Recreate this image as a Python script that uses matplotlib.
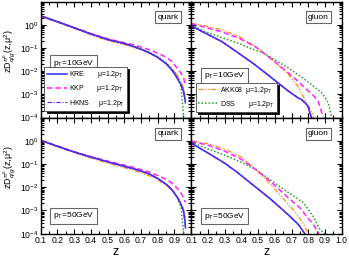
import numpy as np
import matplotlib
matplotlib.use('Agg')
import matplotlib.pyplot as plt

plt.rcParams['font.family'] = ['Liberation Sans', 'DejaVu Sans']
plt.rcParams['mathtext.fontset'] = 'custom'
plt.rcParams['mathtext.rm'] = 'Liberation Sans'
plt.rcParams['mathtext.it'] = 'Liberation Sans:italic'

# ---- quark, pT = 10 GeV ----
z_q10 = [0.1, 0.2, 0.3, 0.4, 0.5, 0.6, 0.65, 0.7, 0.75, 0.8, 0.85, 0.88, 0.9, 0.92, 0.94, 0.955]
q10_kre = [2.4, 1.35, 0.74, 0.40, 0.23, 0.155, 0.12, 0.088, 0.062, 0.039, 0.021, 0.012, 0.0078, 0.0045, 0.0026, 0.0013]
q10_hkns = [2.4, 1.35, 0.74, 0.40, 0.23, 0.155, 0.12, 0.089, 0.062, 0.039, 0.021, 0.0125, 0.008, 0.0046, 0.0025, 0.0012]
q10_kkp = [2.4, 1.35, 0.75, 0.42, 0.25, 0.17, 0.14, 0.11, 0.083, 0.06, 0.04, 0.028, 0.019, 0.012, 0.008, 0.005]
q10_akk = [2.3, 1.3, 0.70, 0.37, 0.21, 0.14, 0.11, 0.085, 0.06, 0.040, 0.023, 0.0135, 0.0095, 0.0062, 0.0035, 0.0018]
q10_dss = [2.4, 1.35, 0.74, 0.40, 0.23, 0.155, 0.12, 0.09, 0.064, 0.042, 0.024, 0.014, 0.0095, 0.0058, 0.0019, 0.0001]
z_q10_tail = [0.962, 0.965]
q10_kre_tail = [0.0007, 0.0005]
q10_hkns_tail = [0.0006, 0.0004]
q10_kkp_tail = [0.0032, 0.0025]
q10_akk_tail = [0.0011, 0.0009]

# ---- quark, pT = 50 GeV ----
z_q50 = [0.1, 0.2, 0.3, 0.4, 0.5, 0.6, 0.65, 0.7, 0.75, 0.8, 0.85, 0.88, 0.9, 0.92, 0.94, 0.955]
q50_kre = [1.05, 0.58, 0.33, 0.2, 0.125, 0.08, 0.064, 0.05, 0.037, 0.024, 0.0135, 0.0085, 0.0055, 0.0034, 0.0018, 0.0009]
q50_hkns = [1.05, 0.58, 0.33, 0.2, 0.125, 0.08, 0.064, 0.05, 0.037, 0.024, 0.0135, 0.0085, 0.0056, 0.0033, 0.0017, 0.0008]
q50_kkp = [1.05, 0.6, 0.34, 0.21, 0.135, 0.09, 0.073, 0.058, 0.045, 0.032, 0.022, 0.016, 0.012, 0.0085, 0.0055, 0.0035]
q50_akk = [1.0, 0.56, 0.31, 0.18, 0.11, 0.07, 0.055, 0.042, 0.031, 0.021, 0.012, 0.008, 0.006, 0.0038, 0.002, 0.0011]
q50_dss = [1.05, 0.58, 0.33, 0.2, 0.125, 0.08, 0.064, 0.05, 0.037, 0.024, 0.0135, 0.0085, 0.0055, 0.0033, 0.0012, 0.0001]
z_q50_tail = [0.962, 0.966]
q50_kre_tail = [0.0004, 0.00018]
q50_hkns_tail = [0.00035, 0.0002]
q50_kkp_tail = [0.0026, 0.0022]
q50_akk_tail = [0.0007, 0.0005]

# ---- gluon, pT = 10 GeV ----
z_g10_kre = [0.1, 0.183, 0.283, 0.382, 0.481, 0.581, 0.68, 0.74, 0.76, 0.78, 0.8, 0.81, 0.82]
g10_kre = [0.9, 0.44, 0.19, 0.061, 0.019, 0.0052, 0.0014, 0.0007, 0.0006, 0.00045, 0.0003, 0.00016, 0.0001]
g10_hkns = [0.88, 0.43, 0.185, 0.06, 0.019, 0.0051, 0.0014, 0.00072, 0.00058, 0.00042, 0.00028, 0.00015, 0.0001]
z_g10_akk = [0.1, 0.183, 0.283, 0.382, 0.481, 0.53, 0.581, 0.63, 0.68, 0.74, 0.78, 0.81, 0.835]
g10_akk = [1.17, 0.9, 0.61, 0.32, 0.12, 0.065, 0.033, 0.016, 0.0075, 0.0021, 0.0006, 0.00025, 0.0001]
z_g10_kkp = [0.1, 0.183, 0.283, 0.382, 0.481, 0.53, 0.581, 0.63, 0.68, 0.73, 0.78, 0.83, 0.86, 0.89]
g10_kkp = [1.1, 0.78, 0.49, 0.27, 0.117, 0.062, 0.033, 0.017, 0.0085, 0.0042, 0.0019, 0.0009, 0.0005, 0.0001]
z_g10_dss = [0.1, 0.183, 0.283, 0.382, 0.45, 0.53, 0.58, 0.68, 0.78, 0.88, 0.92, 0.94]
g10_dss = [1.0, 0.5, 0.28, 0.16, 0.1, 0.062, 0.038, 0.014, 0.0044, 0.0012, 0.00044, 0.0001]

# ---- gluon, pT = 50 GeV ----
z_g50_kre = [0.1, 0.2, 0.3, 0.374, 0.473, 0.573, 0.652, 0.692, 0.741, 0.78]
g50_kre = [0.8, 0.3, 0.11, 0.045, 0.012, 0.0032, 0.001, 0.00055, 0.00025, 0.0001]
g50_hkns = [0.78, 0.3, 0.108, 0.044, 0.012, 0.0031, 0.001, 0.00053, 0.00024, 0.0001]
z_g50_akk = [0.1, 0.2, 0.3, 0.4, 0.49, 0.573, 0.672, 0.732, 0.77, 0.8]
g50_akk = [1.0, 0.75, 0.45, 0.2, 0.055, 0.014, 0.0022, 0.0007, 0.00028, 0.0001]
z_g50_kkp = [0.1, 0.2, 0.3, 0.4, 0.49, 0.573, 0.672, 0.75, 0.83, 0.865]
g50_kkp = [0.95, 0.65, 0.36, 0.16, 0.055, 0.018, 0.004, 0.0013, 0.00025, 0.0001]
z_g50_dss = [0.1, 0.2, 0.3, 0.4, 0.49, 0.573, 0.672, 0.77, 0.83, 0.87, 0.9]
g50_dss = [0.87, 0.45, 0.24, 0.12, 0.055, 0.021, 0.0066, 0.0022, 0.00055, 0.00015, 0.0001]

xticks = [0.1, 0.2, 0.3, 0.4, 0.5, 0.6, 0.7, 0.8, 0.9, 1.0]
yticks = [1e-4, 1e-3, 1e-2, 1e-1, 1e0]
ytick_labels = ['$10^{-4}$', '$10^{-3}$', '$10^{-2}$', '$10^{-1}$', '$10^{0}$']

c_kre = '#3a3aff'
c_kkp = '#ff22ff'
c_hkns = '#6a1bd6'
c_akk = '#ff8a1a'
c_dss = '#2e9a2e'

fig = plt.figure(figsize=(3.49, 2.63), dpi=100)
L, B, W, H = 0.1166, 0.1114, 0.4312, 0.4414
ax_q10 = fig.add_axes([L, B + H, W, H])
ax_g10 = fig.add_axes([L + W, B + H, W, H])
ax_q50 = fig.add_axes([L, B, W, H])
ax_g50 = fig.add_axes([L + W, B, W, H])


def draw(ax, zk, kre, hkns, za, akk, zp, kkp, zd, dss):
    ax.plot(zd, dss, color=c_dss, lw=1.1, dashes=[1, 1.3], label='DSS')
    ax.plot(za, akk, color=c_akk, lw=0.9, dashes=[4, 1.3, 1, 1.3, 1, 1.3], label='AKK08')
    ax.plot(zp, kkp, color=c_kkp, lw=1.1, dashes=[3.5, 2], label='KKP')
    ax.plot(zk, kre, color=c_kre, lw=1.2, label='KRE')
    ax.plot(zk, hkns, color=c_hkns, lw=0.8, dashes=[4, 1.5, 1, 1.5], label='HKNS')


zq = z_q10 + z_q10_tail
draw(ax_q10, zq, q10_kre + q10_kre_tail, q10_hkns + q10_hkns_tail,
     zq, q10_akk + q10_akk_tail, zq, q10_kkp + q10_kkp_tail, z_q10, q10_dss)
zq = z_q50 + z_q50_tail
draw(ax_q50, zq, q50_kre + q50_kre_tail, q50_hkns + q50_hkns_tail,
     zq, q50_akk + q50_akk_tail, zq, q50_kkp + q50_kkp_tail, z_q50, q50_dss)
draw(ax_g10, z_g10_kre, g10_kre, g10_hkns, z_g10_akk, g10_akk,
     z_g10_kkp, g10_kkp, z_g10_dss, g10_dss)
draw(ax_g50, z_g50_kre, g50_kre, g50_hkns, z_g50_akk, g50_akk,
     z_g50_kkp, g50_kkp, z_g50_dss, g50_dss)

box = dict(boxstyle='square,pad=0.3', fc='white', ec='#666666', lw=0.8)
for ax in [ax_q10, ax_g10, ax_q50, ax_g50]:
    ax.set_yscale('log')
    ax.set_xlim(0.1, 1.0)
    ax.set_ylim(1e-4, 10)
    ax.set_xticks(xticks)
    ax.set_xticks(np.arange(0.15, 1.0, 0.1), minor=True)
    ax.set_yticks(yticks)
    ax.tick_params(which='both', direction='in', top=True, right=True,
                   labelsize=6.2, pad=1.5, width=0.8)
    ax.tick_params(which='major', length=3.5)
    ax.tick_params(which='minor', length=2)
    for s in ax.spines.values():
        s.set_linewidth(1.0)

for ax in [ax_q10, ax_q50]:
    ax.set_yticklabels(ytick_labels)
    ax.set_ylabel('zD$^{\\pi^0}_{q/g}$(z,μ$^2$)', fontsize=6.5)
    ax.yaxis.set_label_coords(-0.15, 0.57)
for ax in [ax_g10, ax_g50]:
    ax.set_yticklabels([])
for ax in [ax_q10, ax_g10]:
    ax.set_xticklabels([])
ax_q50.set_xticklabels(['0.1', '0.2', '0.3', '0.4', '0.5', '0.6', '0.7', '0.8', '0.9', ''])
ax_g50.set_xticklabels(['0.1', '0.2', '0.3', '0.4', '0.5', '0.6', '0.7', '0.8', '0.9', '1.0'])
for ax in [ax_q50, ax_g50]:
    ax.set_xlabel('z', fontsize=9, labelpad=1)

ax_q10.text(0.846, 0.863, 'quark', transform=ax_q10.transAxes, fontsize=6, ha='center', va='center', bbox=box)
ax_q50.text(0.846, 0.863, 'quark', transform=ax_q50.transAxes, fontsize=6, ha='center', va='center', bbox=box)
ax_g10.text(0.846, 0.863, 'gluon', transform=ax_g10.transAxes, fontsize=6, ha='center', va='center', bbox=box)
ax_g50.text(0.846, 0.863, 'gluon', transform=ax_g50.transAxes, fontsize=6, ha='center', va='center', bbox=box)
ax_q10.text(0.217, 0.47, 'p$_\\mathrm{T}$=10GeV', transform=ax_q10.transAxes, fontsize=6, ha='center', va='center', bbox=box)
ax_g10.text(0.22, 0.36, 'p$_\\mathrm{T}$=10GeV', transform=ax_g10.transAxes, fontsize=6, ha='center', va='center', bbox=box)
ax_q50.text(0.217, 0.153, 'p$_\\mathrm{T}$=50GeV', transform=ax_q50.transAxes, fontsize=6, ha='center', va='center', bbox=box)
ax_g50.text(0.22, 0.15, 'p$_\\mathrm{T}$=50GeV', transform=ax_g50.transAxes, fontsize=6, ha='center', va='center', bbox=box)

mu = 'μ=1.2p$_\\mathrm{T}$'
shadow = {'color': 'black', 'alpha': 1, 'ox': 1.6, 'oy': -1.6}
h, lab = ax_q10.get_legend_handles_labels()
hd = dict(zip(lab, h))
leg1 = ax_q10.legend([hd['KRE'], hd['KKP'], hd['HKNS']],
                     ['KRE       ' + mu, 'KKP       ' + mu, 'HKNS     ' + mu],
                     loc='lower left', bbox_to_anchor=(0.025, 0.06), fontsize=5,
                     handlelength=2.9, handletextpad=0.3, labelspacing=0.45,
                     borderpad=0.3, borderaxespad=0, fancybox=False, framealpha=1,
                     edgecolor='#444444', shadow=shadow)
leg1.get_frame().set_linewidth(0.6)
h, lab = ax_g10.get_legend_handles_labels()
hd = dict(zip(lab, h))
leg2 = ax_g10.legend([hd['AKK08'], hd['DSS']],
                     ['AKK08  ' + mu, 'DSS       ' + mu],
                     loc='lower left', bbox_to_anchor=(0.03, 0.05), fontsize=5,
                     handlelength=2.9, handletextpad=0.3, labelspacing=0.45,
                     borderpad=0.3, borderaxespad=0, fancybox=False, framealpha=1,
                     edgecolor='#444444', shadow=shadow)
leg2.get_frame().set_linewidth(0.6)

fig.savefig('out.png', dpi=100)
